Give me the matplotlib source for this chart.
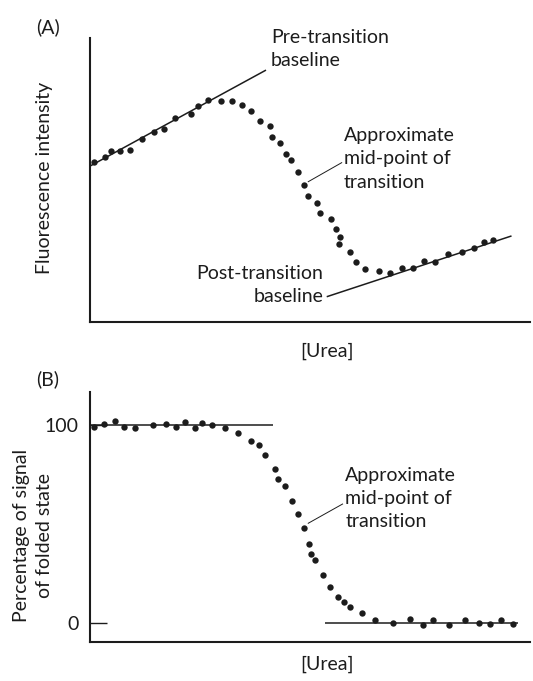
import matplotlib
matplotlib.use("Agg")
import matplotlib.pyplot as plt

plt.rcParams['font.family'] = ['Lato', 'DejaVu Sans']

# ---- (A) raw fluorescence vs urea concentration ----
urea_a = [0.10, 0.33, 0.48, 0.69, 0.91, 1.18, 1.45, 1.68, 1.93, 2.30,
          2.46, 2.69, 2.98, 3.23, 3.46, 3.67, 3.86, 4.10, 4.14, 4.32,
          4.45, 4.57, 4.73, 4.86, 4.96, 5.16, 5.23, 5.47, 5.60, 5.69,
          5.67, 5.92, 6.04, 6.25, 6.56, 6.82, 7.10, 7.35, 7.58, 7.85,
          8.14, 8.45, 8.72, 8.96, 9.17]
fluor = [56.2, 58.2, 60.2, 60.3, 60.6, 64.4, 66.9, 68.1, 71.7, 73.2,
         76.2, 78.3, 77.8, 77.8, 76.3, 74.2, 70.8, 69.1, 65.2, 62.9,
         59.2, 56.9, 52.7, 48.1, 44.4, 41.8, 38.5, 36.2, 32.9, 29.8,
         27.4, 24.5, 21.0, 18.6, 17.8, 17.2, 19.1, 18.9, 21.4, 21.1,
         24.0, 24.5, 26.2, 28.3, 28.8]
pre_base_x = [0.0, 4.0]
pre_base_y = [54.9, 88.7]
post_base_x = [5.38, 9.58]
post_base_y = [8.9, 30.3]

# ---- (B) fraction of folded state ----
urea_b = [0.10, 0.31, 0.56, 0.78, 1.02, 1.43, 1.72, 1.96, 2.16, 2.38,
          2.55, 2.77, 3.06, 3.36, 3.67, 3.85, 3.98, 4.20, 4.27, 4.43,
          4.58, 4.72, 4.87, 4.98, 5.02, 5.11, 5.29, 5.46, 5.63, 5.78,
          5.90, 6.18, 6.47, 6.89, 7.28, 7.57, 7.79, 8.15, 8.53, 8.84,
          9.09, 9.33, 9.61]
folded = [99.0, 100.4, 101.7, 98.7, 98.5, 100.0, 100.4, 98.7, 101.4, 98.3,
          100.9, 100.0, 98.3, 95.7, 92.0, 90.0, 84.5, 77.7, 72.8, 69.2,
          61.4, 55.1, 47.9, 39.7, 34.8, 31.6, 24.1, 18.3, 12.9, 10.7,
          8.1, 5.2, 1.4, -0.2, 1.9, -0.9, 1.5, -0.9, 1.5, -0.2,
          -0.7, 1.7, -0.4]
folded_base_x = [0.0, 4.15]
unfolded_base_x = [5.33, 9.73]
b_ticks = [0, 100]
b_ticklabels = ['0', '100']

INK = '#1c1c1c'
FS = 14
LS = 1.43
DOT = 21

fig = plt.figure(figsize=(5.33, 6.81), dpi=100)
W, H = 533.0, 681.0


def panel(left, top, right, bottom):
    return fig.add_axes([left / W, 1 - bottom / H, (right - left) / W, (bottom - top) / H])


def style(ax):
    for s in ('top', 'right'):
        ax.spines[s].set_visible(False)
    for s in ('left', 'bottom'):
        ax.spines[s].set_linewidth(1.5)
        ax.spines[s].set_color(INK)
    ax.set_xticks([])
    ax.set_xlim(0, 10)


# Panel A
axA = panel(90, 38, 530, 322)
style(axA)
axA.set_ylim(0, 100)
axA.set_yticks([])
axA.plot(pre_base_x, pre_base_y, color=INK, lw=1.1, solid_capstyle='butt')
axA.plot(post_base_x, post_base_y, color=INK, lw=1.1, solid_capstyle='butt')
axA.scatter(urea_a, fluor, s=DOT, color=INK, linewidths=0, zorder=3, clip_on=False)
axA.plot([4.96, 5.72], [49.4, 56.1], color=INK, lw=0.7)
axA.text(5.77, 57.4, 'Approximate\nmid-point of\ntransition', fontsize=FS,
         ha='left', va='center', linespacing=LS, color=INK)
axA.text(4.11, 96.1, 'Pre-transition\nbaseline', fontsize=FS,
         ha='left', va='center', linespacing=LS, color=INK)
axA.text(5.30, 13.2, 'Post-transition\nbaseline', fontsize=FS,
         ha='right', va='center', multialignment='right', linespacing=LS, color=INK)

# Panel B
axB = panel(90, 392, 530, 642)
style(axB)
axB.set_ylim(-9.58, 116.5)
axB.set_yticks(b_ticks)
axB.set_yticklabels(b_ticklabels, fontsize=FS, color=INK)
axB.tick_params(axis='y', direction='in', length=12, width=1.0, pad=8, colors=INK)
axB.plot(folded_base_x, [100, 100], color=INK, lw=1.1, solid_capstyle='butt')
axB.plot(unfolded_base_x, [0, 0], color=INK, lw=1.1, solid_capstyle='butt')
axB.scatter(urea_b, folded, s=DOT, color=INK, linewidths=0, zorder=3, clip_on=False)
axB.plot([4.96, 5.74], [50.3, 60.0], color=INK, lw=0.7)
axB.text(5.80, 63.0, 'Approximate\nmid-point of\ntransition', fontsize=FS,
         ha='left', va='center', linespacing=LS, color=INK)

# Axis titles and panel letters
fig.text(327 / W, 1 - 351 / H, '[Urea]', fontsize=FS, ha='center', va='center', color=INK)
fig.text(327 / W, 1 - 664 / H, '[Urea]', fontsize=FS, ha='center', va='center', color=INK)
fig.text(45 / W, 1 - 178 / H, 'Fluorescence intensity', fontsize=FS, rotation=90,
         ha='center', va='center', color=INK)
fig.text(33 / W, 1 - 535 / H, 'Percentage of signal\nof folded state', fontsize=FS,
         rotation=90, ha='center', va='center', linespacing=LS, color=INK)
fig.text(48 / W, 1 - 27 / H, '(A)', fontsize=FS, ha='center', va='center', color=INK)
fig.text(48 / W, 1 - 379 / H, '(B)', fontsize=FS, ha='center', va='center', color=INK)

fig.savefig('out.png', dpi=100)
